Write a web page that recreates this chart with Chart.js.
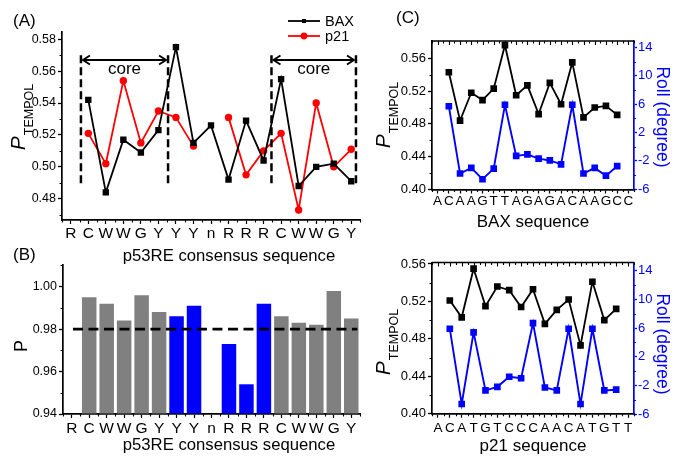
<!DOCTYPE html>
<html><head><meta charset="utf-8">
<script src="https://cdn.jsdelivr.net/npm/chart.js@4.4.1/dist/chart.umd.min.js"></script>
<style>
html,body{margin:0;padding:0;background:#fff;}
#wrap{position:relative;width:676px;height:456px;overflow:hidden;background:#fff;}
canvas{position:absolute;left:0;top:0;}
</style></head><body>
<div id="wrap">
<canvas id="cA" width="676" height="456"></canvas>
<canvas id="cB" width="676" height="456"></canvas>
<canvas id="cC1" width="676" height="456"></canvas>
<canvas id="cC2" width="676" height="456"></canvas>
</div>
<script>
// ---------------- data ----------------
const aCats = ['R','C','W','W','G','Y','Y','Y','n','R','R','R','C','W','W','G','Y'];
const aBax  = [null,0.542,0.484,0.517,0.509,0.523,0.575,0.515,0.526,0.492,0.529,0.504,0.555,0.488,0.500,0.502,0.491];
const aP21  = [null,0.521,0.502,0.554,0.515,0.535,0.531,0.513,null,0.531,0.495,0.510,0.521,0.473,0.540,0.500,0.511];
const bVals = [null,0.995,0.992,0.984,0.996,0.988,0.986,0.991,null,0.973,0.954,0.992,0.986,0.983,0.982,0.998,0.985];
const coreRanges = [[1,5],[12,16]];
const bThreshold = 0.98;

const baxSeq   = ['A','C','A','A','G','T','T','A','G','A','G','A','C','A','A','G','C','C'];
const cBaxP    = [null,0.543,0.484,0.518,0.509,0.523,0.576,0.515,0.527,0.492,0.530,0.504,0.555,0.488,0.500,0.502,0.491,null];
const cBaxRoll = [null,5.7,-3.8,-3.0,-4.6,-3.1,5.9,-1.3,-1.1,-1.7,-1.95,-2.5,5.9,-3.8,-3.0,-4.1,-2.75,null];
const p21Seq   = ['A','C','A','T','G','T','C','C','C','A','A','C','A','T','G','T','T'];
const cP21P    = [null,0.521,0.503,0.555,0.515,0.536,0.532,0.514,0.533,0.496,0.511,0.522,0.473,0.541,0.500,0.512,null];
const cP21Roll = [null,5.9,-4.6,5.4,-2.7,-2.2,-0.8,-1.0,6.7,-2.3,-2.7,5.9,-4.6,5.9,-2.7,-2.6,null];

const aYTicks = [0.48,0.50,0.52,0.54,0.56,0.58];
const aYMinor = [0.47,0.49,0.51,0.53,0.55,0.57];
const bYTicks = [0.94,0.96,0.98,1.00];
const bYMinor = [0.95,0.97,0.99,1.01];
const cYTicks = [0.40,0.44,0.48,0.52,0.56];
const cYMinor = [0.42,0.46,0.50,0.54];
const cRollTicks = [-6,-2,2,6,10,14];
const cRollMinor = [-4,0,4,8,12];

// ---------------- helpers ----------------
const FONT = '"Liberation Sans", Arial, Helvetica, sans-serif';
const BLUE = '#0000ff', GRAY = '#808080', RED = '#ff0000';
Chart.defaults.font.family = FONT;
Chart.defaults.color = '#000';

function yLin(min, max, ticks, size, width, pos, color, fmt, tl, pad) {
  return {
    type:'linear', position:pos, min:min, max:max,
    afterFit: s => { s.width = width; },
    afterBuildTicks: s => { s.ticks = ticks.map(v => ({value:v})); },
    ticks:{font:{size:size}, color:color, padding:pad, callback: v => fmt(v)},
    grid:{display:true, drawOnChartArea:false, drawTicks:true, tickLength:tl, tickColor:color, tickWidth:1.3},
    border:{display:true, color:color, width:1.7}
  };
}
function xCat(size, height, pad) {
  return {
    type:'category', offset:true,
    afterFit: s => { s.height = height; },
    ticks:{autoSkip:false, maxRotation:0, minRotation:0, font:{size:size}, color:'#000', padding:pad},
    grid:{display:true, drawOnChartArea:false, drawTicks:true, tickLength:4, tickColor:'#000', tickWidth:1.2, offset:false},
    border:{display:true, color:'#000', width:1.7}
  };
}
function text(ctx, s, x, y, size, opts) {
  opts = opts || {};
  ctx.save();
  ctx.font = (opts.style ? opts.style + ' ' : '') + size + 'px ' + FONT;
  ctx.fillStyle = opts.color || '#000';
  ctx.textAlign = opts.align || 'left';
  ctx.textBaseline = opts.baseline || 'alphabetic';
  ctx.translate(x, y);
  if (opts.rot) ctx.rotate(opts.rot);
  ctx.fillText(s, 0, 0);
  ctx.restore();
}
function pLabel(ctx, pBaseX, subBaseX, cy, pSize, subSize) {
  ctx.save();
  ctx.font = 'italic ' + pSize + 'px ' + FONT;
  const wP = ctx.measureText('P').width;
  ctx.font = subSize + 'px ' + FONT;
  const wS = ctx.measureText('TEMPOL').width;
  const total = wP + 1 + wS;
  ctx.translate(pBaseX, cy + total / 2);
  ctx.rotate(-Math.PI / 2);
  ctx.fillStyle = '#000';
  ctx.textAlign = 'left'; ctx.textBaseline = 'alphabetic';
  ctx.font = 'italic ' + pSize + 'px ' + FONT;
  ctx.fillText('P', 0, 0);
  ctx.font = subSize + 'px ' + FONT;
  ctx.fillText('TEMPOL', wP + 1, subBaseX - pBaseX);
  ctx.restore();
}
function vMinor(ctx, scale, values, x0, dir, len, color) {
  ctx.save(); ctx.strokeStyle = color; ctx.lineWidth = 1.1; ctx.beginPath();
  values.forEach(v => { const y = Math.round(scale.getPixelForValue(v)) + 0.5; ctx.moveTo(x0, y); ctx.lineTo(x0 + dir * len, y); });
  ctx.stroke(); ctx.restore();
}
function hMinor(ctx, xs, y0, dir, len, color) {
  ctx.save(); ctx.strokeStyle = color; ctx.lineWidth = 1.1; ctx.beginPath();
  xs.forEach(x => { const xx = Math.round(x) + 0.5; ctx.moveTo(xx, y0); ctx.lineTo(xx, y0 + dir * len); });
  ctx.stroke(); ctx.restore();
}
function halfPositions(xs, n) {
  const out = [];
  for (let i = 0; i <= n; i++) out.push(xs.getPixelForValue(i - 0.5));
  return out;
}
function arrow(ctx, x1, x2, y) {
  ctx.save(); ctx.strokeStyle = '#000'; ctx.lineWidth = 1.9; ctx.beginPath();
  ctx.moveTo(x1, y); ctx.lineTo(x2, y);
  ctx.moveTo(x1 + 7, y - 4.5); ctx.lineTo(x1, y); ctx.lineTo(x1 + 7, y + 4.5);
  ctx.moveTo(x2 - 7, y - 4.5); ctx.lineTo(x2, y); ctx.lineTo(x2 - 7, y + 4.5);
  ctx.stroke(); ctx.restore();
}
const common = {
  responsive:false, animation:false, events:[],
  plugins:{legend:{display:false}, tooltip:{enabled:false}}
};

// ---------------- panel A ----------------
new Chart(document.getElementById('cA'), {
  type:'line',
  data:{labels:aCats, datasets:[
    {label:'BAX', data:aBax, borderColor:'#000', backgroundColor:'#000', borderWidth:1.8,
     pointStyle:'rect', pointRadius:4.5, pointBorderWidth:0, pointBackgroundColor:'#000', tension:0},
    {label:'p21', data:aP21, borderColor:RED, backgroundColor:RED, borderWidth:1.8,
     pointStyle:'circle', pointRadius:3.7, pointBorderWidth:0, pointBackgroundColor:RED, tension:0}
  ]},
  options:Object.assign({}, common, {
    layout:{padding:{left:0, top:32, right:316, bottom:0}},
    scales:{
      x:xCat(15.5, 236, 0),
      y:yLin(0.4667, 0.5845, aYTicks, 12.5, 62, 'left', '#000', v => v.toFixed(2), 4, 2)
    }
  }),
  plugins:[{id:'decA', afterDraw(chart){
    const ctx = chart.ctx, xs = chart.scales.x, ys = chart.scales.y, ca = chart.chartArea;
    vMinor(ctx, ys, aYMinor, ca.left, -1, 2.5, '#000');
    hMinor(ctx, halfPositions(xs, aCats.length), ca.bottom, 1, 2.5, '#000');
    const bounds = [0.58, 5.55, 11.45, 16.27];
    ctx.save(); ctx.strokeStyle = '#000'; ctx.lineWidth = 2.5; ctx.setLineDash([8,4]);
    bounds.forEach(b => { const x = xs.getPixelForValue(b); ctx.beginPath(); ctx.moveTo(x, ys.getPixelForValue(0.570)); ctx.lineTo(x, ys.getPixelForValue(0.4875)); ctx.stroke(); });
    ctx.restore();
    const ay = ys.getPixelForValue(0.567);
    [[0,1],[2,3]].forEach(([i,j]) => {
      const x1 = xs.getPixelForValue(bounds[i]) + 2, x2 = xs.getPixelForValue(bounds[j]) - 2;
      arrow(ctx, x1, x2, ay);
      text(ctx, 'core', (x1 + x2) / 2, ys.getPixelForValue(0.558), 17, {align:'center'});
    });
    chart.data.datasets.forEach((d, i) => {
      const y = 21 + i * 15;
      ctx.save(); ctx.strokeStyle = d.borderColor; ctx.lineWidth = 1.8;
      ctx.beginPath(); ctx.moveTo(288, y); ctx.lineTo(320, y); ctx.stroke();
      ctx.fillStyle = d.borderColor;
      if (d.pointStyle === 'rect') ctx.fillRect(302, y - 2, 4, 4);
      else { ctx.beginPath(); ctx.arc(304, y, 3.4, 0, Math.PI * 2); ctx.fill(); }
      ctx.restore();
      text(ctx, d.label, 325, y + 0.5, 14.5, {baseline:'middle'});
    });
    text(ctx, '(A)', 13, 26, 17);
    pLabel(ctx, 25, 33, 117, 21, 12.5);
    text(ctx, 'p53RE consensus sequence', 229, 261, 16.7, {align:'center'});
  }}]
});

// ---------------- panel B ----------------
const bColors = aCats.map((_, i) => coreRanges.some(r => i >= r[0] && i <= r[1]) ? GRAY : BLUE);
new Chart(document.getElementById('cB'), {
  type:'bar',
  data:{labels:aCats, datasets:[{data:bVals, backgroundColor:bColors, borderWidth:0, base:0.94,
    barPercentage:0.83, categoryPercentage:1.0}]},
  options:Object.assign({}, common, {
    layout:{padding:{left:0, top:265, right:316, bottom:0}},
    scales:{
      x:xCat(15.5, 42, 1),
      y:yLin(0.94, 1.0102, bYTicks, 12.5, 63, 'left', '#000', v => v.toFixed(2), 4, 2)
    }
  }),
  plugins:[{id:'decB', afterDraw(chart){
    const ctx = chart.ctx, xs = chart.scales.x, ys = chart.scales.y, ca = chart.chartArea;
    vMinor(ctx, ys, bYMinor, ca.left, -1, 2.5, '#000');
    hMinor(ctx, halfPositions(xs, aCats.length), ca.bottom, 1, 2.5, '#000');
    const y = ys.getPixelForValue(bThreshold);
    ctx.save(); ctx.strokeStyle = '#000'; ctx.lineWidth = 2.8; ctx.setLineDash([10,5.5]);
    ctx.beginPath(); ctx.moveTo(xs.getPixelForValue(0.07), y); ctx.lineTo(xs.getPixelForValue(16.35), y); ctx.stroke();
    ctx.restore();
    text(ctx, '(B)', 13, 260, 17);
    text(ctx, 'P', 27, 346, 18, {align:'center', rot:-Math.PI/2});
    text(ctx, 'p53RE consensus sequence', 229, 450, 16.7, {align:'center'});
  }}]
});

// ---------------- panel C ----------------
function cChart(id, seq, pVals, rollVals, top, bottom, yMax, rMin, rMax, xPad, title, labelCy, letter) {
  const xh = 456 - bottom;
  new Chart(document.getElementById(id), {
    type:'line',
    data:{labels:seq, datasets:[
      {label:'P', data:pVals, yAxisID:'y', borderColor:'#000', borderWidth:1.8,
       pointStyle:'rect', pointRadius:4.7, pointBorderWidth:0, pointBackgroundColor:'#000', tension:0},
      {label:'Roll', data:rollVals, yAxisID:'y1', borderColor:BLUE, borderWidth:1.9,
       pointStyle:'rect', pointRadius:4.7, pointBorderWidth:0, pointBackgroundColor:BLUE, tension:0}
    ]},
    options:Object.assign({}, common, {
      layout:{padding:{left:0, top:top, right:0, bottom:0}},
      scales:{
        x:xCat(13.5, xh, xPad),
        y:yLin(0.40, yMax, cYTicks, 13, 432, 'left', '#000', v => v.toFixed(2), 4, 2),
        y1:yLin(rMin, rMax, cRollTicks, 13, 42, 'right', BLUE, v => String(v), 3, 1)
      }
    }),
    plugins:[{id:'dec' + id, afterDraw(chart){
      const ctx = chart.ctx, xs = chart.scales.x, ys = chart.scales.y, y1 = chart.scales.y1, ca = chart.chartArea;
      ctx.save(); ctx.strokeStyle = '#000'; ctx.lineWidth = 1.7;
      ctx.beginPath(); ctx.moveTo(ca.left, ca.top); ctx.lineTo(ca.right, ca.top); ctx.stroke(); ctx.restore();
      hMinor(ctx, halfPositions(xs, seq.length), ca.top, 1, 2.5, '#000');
      hMinor(ctx, seq.map((_, i) => xs.getPixelForValue(i)), ca.top, 1, 4, '#000');
      hMinor(ctx, halfPositions(xs, seq.length), ca.bottom, 1, 2.5, '#000');
      vMinor(ctx, ys, cYMinor, ca.left, -1, 2.5, '#000');
      vMinor(ctx, y1, cRollMinor, ca.right, 1, 2, BLUE);
      pLabel(ctx, 390, 398, labelCy, 21, 12.5);
      text(ctx, 'Roll (degree)', 662, labelCy + 2, 17.5, {align:'center', baseline:'middle', color:BLUE, rot:Math.PI/2});
      text(ctx, title, (ca.left + ca.right) / 2, bottom + 37, 17, {align:'center'});
      if (letter) text(ctx, letter, 396, 23, 17);
    }}]
  });
}
cChart('cC1', baxSeq, cBaxP, cBaxRoll, 41, 189.5, 0.5811, -6.05, 14.9, 0, 'BAX sequence', 115, '(C)');
cChart('cC2', p21Seq, cP21P, cP21Roll, 262.5, 413.7, 0.5616, -5.95, 15.15, 2, 'p21 sequence', 342, null);
</script>
</body></html>
